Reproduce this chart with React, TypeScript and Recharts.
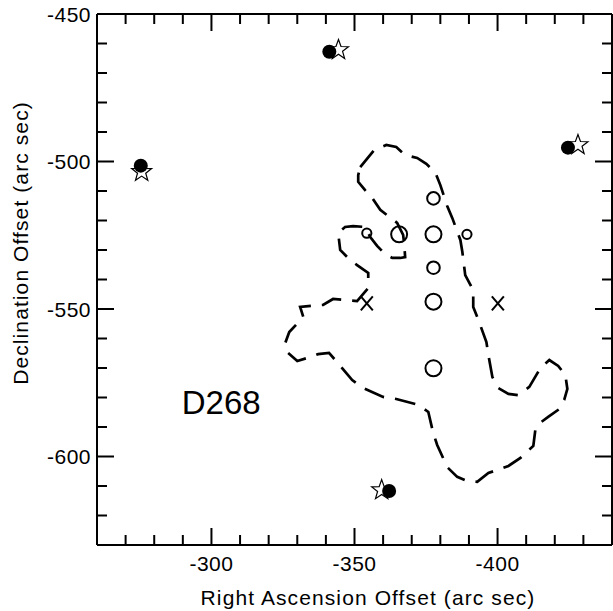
import { ScatterChart, Scatter, XAxis, YAxis, ReferenceDot } from 'recharts';

// axis ticks (every 10 arc sec, labels every 50)
const xTicks = [-270, -280, -290, -300, -310, -320, -330, -340, -350, -360, -370, -380, -390, -400, -410, -420, -430];
const yTicks = [-450, -460, -470, -480, -490, -500, -510, -520, -530, -540, -550, -560, -570, -580, -590, -600, -610, -620];

// stars and the filled dots drawn next to them
const stars = [
  { x: -275.6, y: -503.5 },
  { x: -344.4, y: -462.2 },
  { x: -428.1, y: -494.4 },
  { x: -359.5, y: -611.4 },
];
const filledDots = [
  { x: -275.3, y: -501.4 },
  { x: -341.2, y: -462.8 },
  { x: -424.6, y: -495.3 },
  { x: -362.1, y: -611.7 },
];

// open circles, grouped by size
const largeRings = [
  { x: -365.6, y: -524.7 },
  { x: -377.6, y: -524.7 },
  { x: -377.6, y: -547.5 },
  { x: -377.6, y: -570.1 },
];
const mediumRings = [
  { x: -377.6, y: -512.5 },
  { x: -377.6, y: -536.0 },
];
const smallRings = [
  { x: -354.3, y: -524.3 },
  { x: -389.3, y: -524.7 },
];

const crosses = [
  { x: -354.3, y: -548.1 },
  { x: -400.1, y: -548.1 },
];

// dashed contour, traced clockwise from the top
const contour = [
  { x: -352.0, y: -501.9 }, { x: -356.9, y: -496.1 }, { x: -361.1, y: -494.4 }, { x: -364.6, y: -495.1 },
  { x: -367.7, y: -497.8 }, { x: -371.9, y: -498.8 }, { x: -375.1, y: -500.8 }, { x: -378.2, y: -503.6 },
  { x: -380.0, y: -508.0 }, { x: -382.4, y: -515.1 }, { x: -384.2, y: -519.2 }, { x: -387.0, y: -526.6 },
  { x: -387.7, y: -530.7 }, { x: -388.7, y: -538.5 }, { x: -391.5, y: -543.6 }, { x: -391.5, y: -549.3 },
  { x: -393.3, y: -553.7 }, { x: -396.1, y: -561.2 }, { x: -396.8, y: -565.6 }, { x: -398.2, y: -573.1 },
  { x: -400.3, y: -576.8 }, { x: -403.8, y: -578.8 }, { x: -407.3, y: -579.2 }, { x: -411.1, y: -576.4 },
  { x: -415.0, y: -570.0 }, { x: -418.1, y: -567.3 }, { x: -421.2, y: -569.3 }, { x: -423.7, y: -572.4 },
  { x: -424.4, y: -577.1 }, { x: -423.3, y: -580.8 }, { x: -421.6, y: -583.9 }, { x: -417.7, y: -586.6 },
  { x: -414.3, y: -589.0 }, { x: -413.2, y: -591.0 }, { x: -412.5, y: -596.4 }, { x: -408.0, y: -600.5 },
  { x: -403.8, y: -603.2 }, { x: -396.8, y: -605.6 }, { x: -392.9, y: -608.6 }, { x: -389.4, y: -608.3 },
  { x: -385.9, y: -606.9 }, { x: -382.4, y: -603.6 }, { x: -378.9, y: -596.1 }, { x: -377.5, y: -592.0 },
  { x: -375.8, y: -584.9 }, { x: -372.3, y: -582.5 }, { x: -364.6, y: -580.5 }, { x: -360.0, y: -579.8 },
  { x: -353.0, y: -576.8 }, { x: -349.2, y: -574.1 }, { x: -343.9, y: -568.0 }, { x: -341.1, y: -564.9 },
  { x: -337.3, y: -565.3 }, { x: -334.5, y: -566.3 }, { x: -330.0, y: -567.6 }, { x: -326.8, y: -564.9 },
  { x: -325.8, y: -561.5 }, { x: -327.2, y: -557.8 }, { x: -332.1, y: -552.7 }, { x: -331.0, y: -549.3 },
  { x: -339.0, y: -548.6 }, { x: -342.5, y: -546.6 }, { x: -350.9, y: -547.3 }, { x: -354.8, y: -542.9 },
  { x: -354.8, y: -537.8 }, { x: -350.9, y: -535.1 }, { x: -348.5, y: -533.4 }, { x: -345.0, y: -530.0 },
  { x: -344.3, y: -524.2 }, { x: -346.7, y: -522.2 }, { x: -349.5, y: -521.9 }, { x: -353.7, y: -522.2 },
  { x: -355.5, y: -525.6 }, { x: -357.9, y: -528.6 }, { x: -360.7, y: -531.4 }, { x: -363.2, y: -532.7 },
  { x: -366.0, y: -532.7 }, { x: -367.7, y: -532.4 }, { x: -367.4, y: -528.3 }, { x: -367.0, y: -524.9 },
  { x: -364.9, y: -520.8 }, { x: -361.8, y: -518.5 }, { x: -359.0, y: -516.4 }, { x: -356.2, y: -512.4 },
  { x: -353.7, y: -509.7 }, { x: -351.3, y: -506.9 }, { x: -351.3, y: -504.6 }, { x: -352.0, y: -501.9 },
];

const fieldLabel = { x: -303.4, y: -581.5, text: 'D268' };

const W = 613;
const H = 611;
const plot = { left: 97, top: 14, right: 612, bottom: 545 };
const font = '"Liberation Sans", Arial, Helvetica, sans-serif';
const axisLine = { stroke: '#000', strokeWidth: 2 };

const isMajor = (v: number) => v % 50 === 0;
const tickLen = (v: number) => (isMajor(v) ? 17 : 10);

const BottomTick = (props: any) => {
  const v = props.payload.value;
  const cx = props.payload.coordinate;
  return (
    <g>
      <line x1={cx} x2={cx} y1={plot.bottom} y2={plot.bottom - tickLen(v)} stroke="#000" strokeWidth={2} />
      {isMajor(v) && (
        <text x={cx} y={plot.bottom + 26} textAnchor="middle" fontSize={21} letterSpacing={0.5} fill="#000">{v}</text>
      )}
    </g>
  );
};

const TopTick = (props: any) => {
  const v = props.payload.value;
  const cx = props.payload.coordinate;
  return <line x1={cx} x2={cx} y1={plot.top} y2={plot.top + tickLen(v)} stroke="#000" strokeWidth={2} />;
};

const LeftTick = (props: any) => {
  const v = props.payload.value;
  const cy = props.payload.coordinate;
  return (
    <g>
      <line x1={plot.left} x2={plot.left + tickLen(v)} y1={cy} y2={cy} stroke="#000" strokeWidth={2} />
      {isMajor(v) && (
        <text x={plot.left - 6} y={cy + 7.5} textAnchor="end" fontSize={21} letterSpacing={0.5} fill="#000">{v}</text>
      )}
    </g>
  );
};

const RightTick = (props: any) => {
  const v = props.payload.value;
  const cy = props.payload.coordinate;
  return <line x1={plot.right} x2={plot.right - tickLen(v)} y1={cy} y2={cy} stroke="#000" strokeWidth={2} />;
};

const starPoints = (cx: number, cy: number, R: number, r: number) => {
  const pts: string[] = [];
  for (let i = 0; i < 10; i++) {
    const a = (-90 + i * 36) * Math.PI / 180;
    const rad = i % 2 === 0 ? R : r;
    pts.push(`${cx + rad * Math.cos(a)},${cy + rad * Math.sin(a)}`);
  }
  return pts.join(' ');
};

const StarShape = (p: any) => (
  <polygon points={starPoints(p.cx, p.cy, 10.5, 4.3)} fill="#fff" stroke="#000" strokeWidth={1.2} />
);
const DotShape = (p: any) => <circle cx={p.cx} cy={p.cy} r={7} fill="#000" />;
const ring = (r: number) => (p: any) => <circle cx={p.cx} cy={p.cy} r={r} fill="none" stroke="#000" strokeWidth={2} />;
const CrossShape = (p: any) => (
  <g stroke="#000" strokeWidth={2}>
    <line x1={p.cx - 6} y1={p.cy - 7} x2={p.cx + 6} y2={p.cy + 7} />
    <line x1={p.cx + 6} y1={p.cy - 7} x2={p.cx - 6} y2={p.cy + 7} />
  </g>
);
const NoShape = () => <g />;

export default function App() {
  return (
    <div style={{ position: 'absolute', left: 0, top: 0, width: W, height: H, background: '#fff', fontFamily: font }}>
      <ScatterChart
        width={W}
        height={H}
        margin={{ top: plot.top - 1, right: W - plot.right - 1, bottom: H - plot.bottom - 1, left: plot.left - 1 }}
      >
        <XAxis
          type="number" dataKey="x" domain={[-440, -260]} reversed allowDataOverflow
          ticks={xTicks} interval={0} height={1} tickSize={0} tickMargin={0} tickLine={false}
          axisLine={axisLine} tick={BottomTick}
          label={{
            content: () => (
              <text x={368} y={605} textAnchor="middle" fontSize={21} letterSpacing={1.1} fill="#000">
                Right Ascension Offset (arc sec)
              </text>
            ),
          }}
        />
        <XAxis
          xAxisId="top" orientation="top" type="number" dataKey="x" domain={[-440, -260]} reversed allowDataOverflow
          ticks={xTicks} interval={0} height={1} tickSize={0} tickMargin={0} tickLine={false}
          axisLine={axisLine} tick={TopTick}
        />
        <YAxis
          type="number" dataKey="y" domain={[-630, -450]} allowDataOverflow
          ticks={yTicks} interval={0} width={1} tickSize={0} tickMargin={0} tickLine={false}
          axisLine={axisLine} tick={LeftTick}
          label={{
            content: () => (
              <text x={28} y={243} transform="rotate(-90 28 243)" textAnchor="middle" fontSize={21} letterSpacing={1.1} fill="#000">
                Declination Offset (arc sec)
              </text>
            ),
          }}
        />
        <YAxis
          yAxisId="right" orientation="right" type="number" dataKey="y" domain={[-630, -450]} allowDataOverflow
          ticks={yTicks} interval={0} width={1} tickSize={0} tickMargin={0} tickLine={false}
          axisLine={axisLine} tick={RightTick}
        />

        <Scatter
          data={contour} shape={NoShape} isAnimationActive={false}
          line={{ stroke: '#000', strokeWidth: 2.7, strokeDasharray: '21 11', fill: 'none' }}
          lineJointType="linear"
        />
        <Scatter data={largeRings} shape={ring(8)} isAnimationActive={false} />
        <Scatter data={mediumRings} shape={ring(6.3)} isAnimationActive={false} />
        <Scatter data={smallRings} shape={ring(4.6)} isAnimationActive={false} />
        <Scatter data={crosses} shape={CrossShape} isAnimationActive={false} />
        <Scatter data={stars} shape={StarShape} isAnimationActive={false} />
        <Scatter data={filledDots} shape={DotShape} isAnimationActive={false} />

        <ReferenceDot
          x={fieldLabel.x} y={fieldLabel.y} r={0} fill="none" stroke="none"
          label={{ value: fieldLabel.text, position: 'center', fontSize: 33, fill: '#000' }}
        />
      </ScatterChart>
    </div>
  );
}
